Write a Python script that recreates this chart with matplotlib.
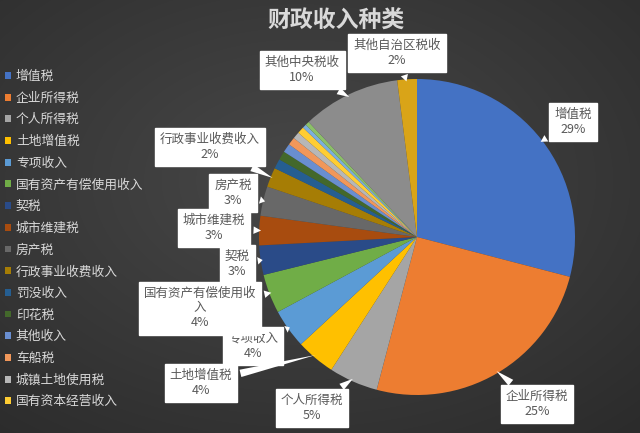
import numpy as np
import matplotlib
matplotlib.use("Agg")
import matplotlib.pyplot as plt

plt.rcParams['font.family'] = ['Noto Sans CJK SC', 'DejaVu Sans']

# ---- data ----
title = "财政收入种类"
categories = ["增值税", "企业所得税", "个人所得税", "土地增值税", "专项收入",
              "国有资产有偿使用收入", "契税", "城市维建税", "房产税", "行政事业收费收入",
              "罚没收入", "印花税", "其他收入", "车船税", "城镇土地使用税", "国有资本经营收入",
              "耕地占用税", "环境保护税", "其他中央税收", "其他自治区税收"]
values = [29, 25, 5, 4, 4, 4, 3, 3, 3, 2,
          1.0, 0.9, 0.9, 0.8, 0.7, 0.7, 0.4, 0.4, 10, 2]
pct_labels = ["29%", "25%", "5%", "4%", "4%", "4%", "3%", "3%", "3%", "2%",
              None, None, None, None, None, None, None, None, "10%", "2%"]
# label text as wrapped in the chart's callouts
callout_names = {5: "国有资产有偿使用收\n入"}
legend_count = 16

colors = ["#4472C4", "#ED7D31", "#A5A5A5", "#FFC000", "#5B9BD5", "#70AD47",
          "#2A4B88", "#A84C0F", "#686868", "#A67D05", "#255E91", "#43682B",
          "#698ED0", "#F1975A", "#B7B7B7", "#FFCD33", "#7CAFDD", "#8CC168",
          "#8C8C8C", "#D9A418"]

# callout box centres (image pixels, y from top)
callout_pos = {0: (573, 122), 1: (537, 404), 2: (312, 408), 3: (201, 383),
               4: (253, 346), 5: (200, 308), 6: (237, 264), 7: (214, 228),
               8: (233, 193), 9: (210, 147), 18: (302, 70), 19: (397, 53)}

W, H = 640, 433
fig = plt.figure(figsize=(W / 100, H / 100), dpi=100)

# background gradient
bg = fig.add_axes([0, 0, 1, 1], zorder=-10)
yy, xx = np.mgrid[0:H, 0:W]
d = np.sqrt(((xx - 300) / W) ** 2 + ((yy - 180) / H) ** 2)
d = d / d.max()
c0 = np.array([0x48, 0x48, 0x48]) / 255
c1 = np.array([0x2b, 0x2b, 0x2b]) / 255
img = c0[None, None, :] * (1 - d[..., None]) + c1[None, None, :] * d[..., None]
bg.imshow(img, aspect='auto', extent=[0, 1, 0, 1])
bg.axis('off')

cx, cy, r = 417, 237, 158
ax = fig.add_axes([(cx - r) / W, (H - cy - r) / H, 2 * r / W, 2 * r / H])
wedges, _ = ax.pie(values, colors=colors, startangle=90, counterclock=False,
                   wedgeprops=dict(linewidth=0))
ax.set_xlim(-1, 1)
ax.set_ylim(-1, 1)
ax.set_aspect('equal')

for i, w in enumerate(wedges):
    if pct_labels[i] is None:
        continue
    name = callout_names.get(i, categories[i])
    txt = f"{name}\n{pct_labels[i]}"
    ang = np.deg2rad((w.theta1 + w.theta2) / 2)
    tip = (0.97 * np.cos(ang), 0.97 * np.sin(ang))
    px, py = callout_pos[i]
    ax.annotate(txt, xy=tip, xycoords='data', xytext=(px, H - py),
                textcoords='figure pixels', ha='center', va='center',
                fontsize=9, color='#595959', linespacing=1.2,
                bbox=dict(boxstyle='square,pad=0.4', fc='white', ec='white'),
                arrowprops=dict(arrowstyle='wedge,tail_width=0.6,shrink_factor=0.5',
                                fc='white', ec='white', lw=0),
                annotation_clip=False, zorder=5)

fig.text(336 / W, 1 - 21 / H, title, ha='center', va='center', fontsize=16.5,
         color='#d9d9d9', fontweight='bold')

leg = fig.legend(handles=wedges[:legend_count], labels=categories[:legend_count],
                 loc='upper left', bbox_to_anchor=(5 / W, 1 - 70 / H),
                 frameon=False, fontsize=9.2, labelcolor='#d9d9d9',
                 handlelength=0.45, handleheight=0.45, handletextpad=0.4,
                 labelspacing=0.68, borderaxespad=0, borderpad=0)

fig.savefig("out.png", dpi=100, facecolor='#3a3a3a')
